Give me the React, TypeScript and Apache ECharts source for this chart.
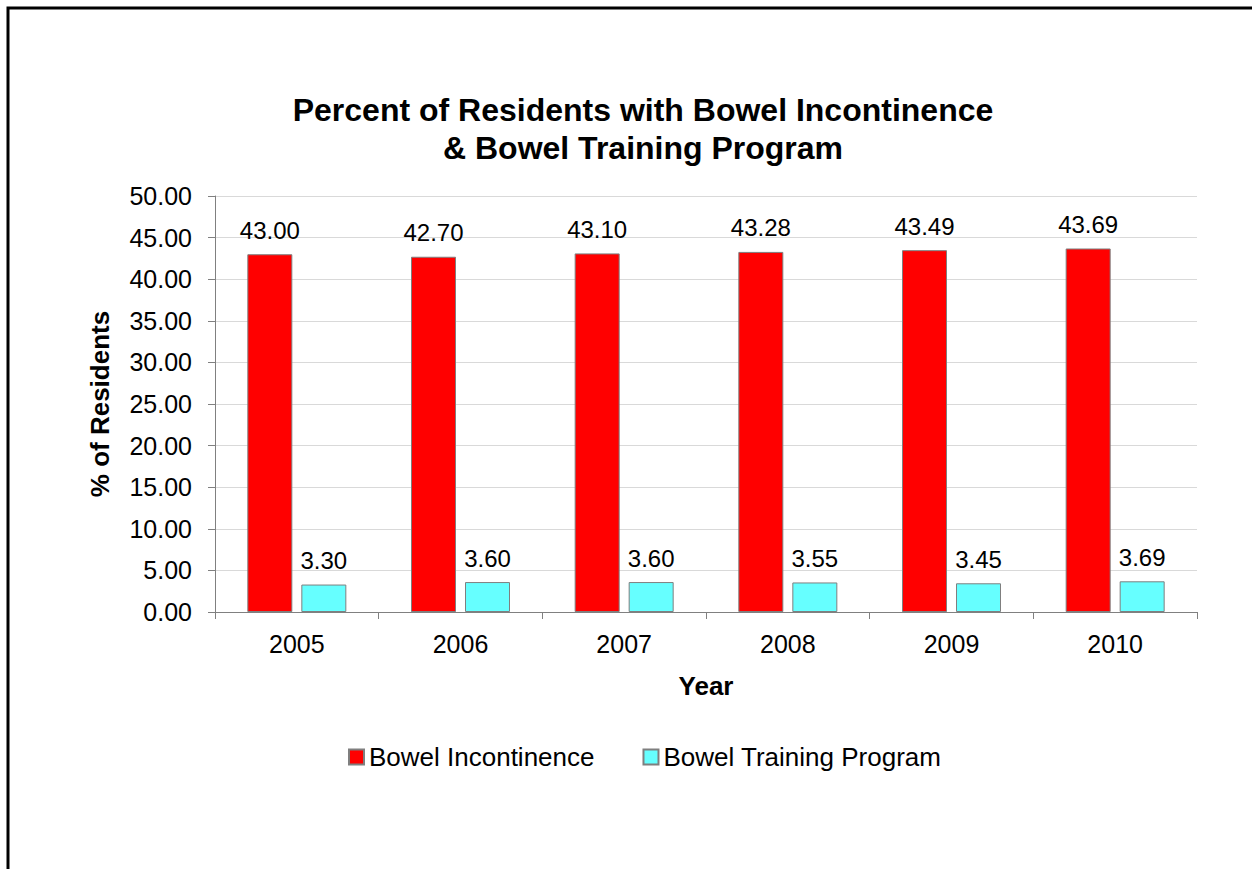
import React, { useEffect, useRef } from "react";
import * as echarts from "echarts";

const years = ["2005", "2006", "2007", "2008", "2009", "2010"];
const incontinence = [43.0, 42.7, 43.1, 43.28, 43.49, 43.69];
const training = [3.3, 3.6, 3.6, 3.55, 3.45, 3.69];
const seriesNames = ["Bowel Incontinence", "Bowel Training Program"];
const titleLines = ["Percent of Residents with Bowel Incontinence", "& Bowel Training Program"];

const FONT = "'Liberation Sans', Arial, sans-serif";

export default function App() {
  const ref = useRef<HTMLDivElement>(null);
  useEffect(() => {
    if (!ref.current) return;
    const chart = echarts.init(ref.current, undefined, { renderer: "svg" });
    const labelFmt = (p: any) => Number(p.value).toFixed(2);
    chart.setOption({
      animation: false,
      backgroundColor: "#ffffff",
      textStyle: { fontFamily: FONT, color: "#000" },
      title: {
        text: titleLines.join("\n"),
        left: 638,
        top: 86,
        textAlign: "center",
        textStyle: { fontFamily: FONT, fontSize: 32, fontWeight: "bold", color: "#000", lineHeight: 38 },
      },
      graphic: [
        {
          type: "rect",
          shape: { x: 8, y: 8, width: 1400, height: 1000 },
          style: { fill: "none", stroke: "#000", lineWidth: 3 },
          silent: true,
        },
      ],
      legend: {
        left: 343,
        top: 739,
        itemWidth: 15,
        itemHeight: 15,
        itemGap: 48,
        icon: "rect",
        textStyle: { fontFamily: FONT, fontSize: 26, color: "#000" },
        data: seriesNames,
      },
      grid: { left: 215, right: 55, top: 196, bottom: 257, containLabel: false },
      xAxis: {
        type: "category",
        data: years,
        name: "Year",
        nameLocation: "middle",
        nameGap: 61,
        nameTextStyle: { fontFamily: FONT, fontSize: 26, fontWeight: "bold", color: "#000" },
        axisLine: { lineStyle: { color: "#808080", width: 1 } },
        axisTick: { show: true, length: 7, lineStyle: { color: "#808080" } },
        axisLabel: { fontFamily: FONT, fontSize: 25, color: "#000", margin: 19 },
        splitLine: { show: false },
      },
      yAxis: {
        type: "value",
        min: 0,
        max: 50,
        interval: 5,
        name: "% of Residents",
        nameLocation: "middle",
        nameGap: 102,
        nameTextStyle: { fontFamily: FONT, fontSize: 26, fontWeight: "bold", color: "#000" },
        axisLine: { show: true, lineStyle: { color: "#808080", width: 1 } },
        axisTick: { show: true, length: 7, lineStyle: { color: "#808080" } },
        axisLabel: { fontFamily: FONT, fontSize: 25, color: "#000", margin: 23, formatter: (v: number) => v.toFixed(2) },
        splitLine: { show: true, lineStyle: { color: "#d9d9d9", width: 1 } },
      },
      series: [
        {
          name: seriesNames[0],
          type: "bar",
          data: incontinence,
          barWidth: 45,
          barGap: "20%",
          itemStyle: { color: "#ff0000", borderColor: "#7f7f7f", borderWidth: 1 },
          label: { show: true, position: "top", distance: 12, fontFamily: FONT, fontSize: 24, color: "#000", formatter: labelFmt },
        },
        {
          name: seriesNames[1],
          type: "bar",
          data: training,
          barWidth: 45,
          barGap: "20%",
          itemStyle: { color: "#66ffff", borderColor: "#7f7f7f", borderWidth: 1 },
          label: { show: true, position: "top", distance: 12, fontFamily: FONT, fontSize: 24, color: "#000", formatter: labelFmt },
        },
      ],
    });
    return () => chart.dispose();
  }, []);
  return <div ref={ref} style={{ position: "fixed", left: 0, top: 0, width: 1252, height: 869 }} />;
}
